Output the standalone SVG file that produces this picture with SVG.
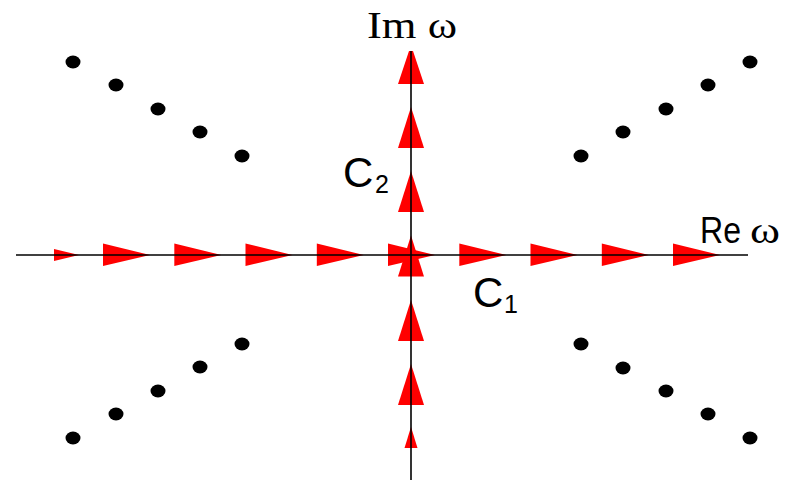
<svg xmlns="http://www.w3.org/2000/svg" width="787" height="480" viewBox="0 0 787 480">
<style>
.ar{fill:#ff0000;stroke:none}
.ax{stroke:#000;stroke-width:1.6;fill:none}
.dot{fill:#000}
.sans{font-family:"Liberation Sans",Arial,sans-serif;fill:#000}
.serif{font-family:"Liberation Serif","Times New Roman",serif;fill:#000}
</style>
<rect width="787" height="480" fill="#fff"/>
<g id="dots">
<ellipse class="dot" cx="73" cy="62" rx="7.5" ry="6.5"/>
<ellipse class="dot" cx="116" cy="85" rx="7.5" ry="6.5"/>
<ellipse class="dot" cx="158" cy="109" rx="7.5" ry="6.5"/>
<ellipse class="dot" cx="200" cy="132" rx="7.5" ry="6.5"/>
<ellipse class="dot" cx="242" cy="156" rx="7.5" ry="6.5"/>
<ellipse class="dot" cx="750" cy="62" rx="7.5" ry="6.5"/>
<ellipse class="dot" cx="708" cy="85" rx="7.5" ry="6.5"/>
<ellipse class="dot" cx="666" cy="109" rx="7.5" ry="6.5"/>
<ellipse class="dot" cx="623" cy="132" rx="7.5" ry="6.5"/>
<ellipse class="dot" cx="581" cy="156" rx="7.5" ry="6.5"/>
<ellipse class="dot" cx="73" cy="438" rx="7.5" ry="6.5"/>
<ellipse class="dot" cx="116" cy="414" rx="7.5" ry="6.5"/>
<ellipse class="dot" cx="158" cy="391" rx="7.5" ry="6.5"/>
<ellipse class="dot" cx="200" cy="367" rx="7.5" ry="6.5"/>
<ellipse class="dot" cx="242" cy="344" rx="7.5" ry="6.5"/>
<ellipse class="dot" cx="750" cy="438" rx="7.5" ry="6.5"/>
<ellipse class="dot" cx="708" cy="414" rx="7.5" ry="6.5"/>
<ellipse class="dot" cx="666" cy="391" rx="7.5" ry="6.5"/>
<ellipse class="dot" cx="623" cy="368" rx="7.5" ry="6.5"/>
<ellipse class="dot" cx="581" cy="344" rx="7.5" ry="6.5"/>
</g>
<g id="contour-C1">
<polygon class="ar" points="54,249 54,261 79,255"/>
<polygon class="ar" points="103,243.5 103,266 150,255"/>
<polygon class="ar" points="174.3,243.5 174.3,266 221.3,255"/>
<polygon class="ar" points="245.5,243.5 245.5,266 292.5,255"/>
<polygon class="ar" points="316.8,243.5 316.8,266 363.8,255"/>
<polygon class="ar" points="388,243.5 388,266 435,255"/>
<polygon class="ar" points="459.3,243.5 459.3,266 506.3,255"/>
<polygon class="ar" points="530.5,243.5 530.5,266 577.5,255"/>
<polygon class="ar" points="601.8,243.5 601.8,266 648.8,255"/>
<polygon class="ar" points="673,243.5 673,266 720,255"/>
</g>
<g id="contour-C2">
<polygon class="ar" points="404.5,448 417.5,448 411,427"/>
<polygon class="ar" points="398,405 424,405 411,364"/>
<polygon class="ar" points="398,341 424,341 411,300"/>
<polygon class="ar" points="398,276.5 424,276.5 411,235.5"/>
<polygon class="ar" points="398,212 424,212 411,171"/>
<polygon class="ar" points="398,148 424,148 411,107"/>
<polygon class="ar" points="398,84 424,84 413,51 409,51"/>
</g>
<g id="connectors">
<line class="ax" x1="16" y1="255" x2="748" y2="255"/>
<line class="ax" x1="411" y1="51" x2="411" y2="480"/>
</g>
<g id="labels">
<text class="serif" x="367" y="38" font-size="38" textLength="90" lengthAdjust="spacingAndGlyphs">Im ω</text>
<text class="sans" x="700" y="243" font-size="37"><tspan textLength="41" lengthAdjust="spacingAndGlyphs">Re</tspan><tspan class="serif" x="750" font-size="38" textLength="30" lengthAdjust="spacingAndGlyphs">ω</tspan></text>
<text class="sans" x="343" y="187" font-size="42">C<tspan x="375" y="193" font-size="25">2</tspan></text>
<text class="sans" x="473" y="307" font-size="42">C<tspan x="504" y="313" font-size="25">1</tspan></text>
</g>
</svg>
